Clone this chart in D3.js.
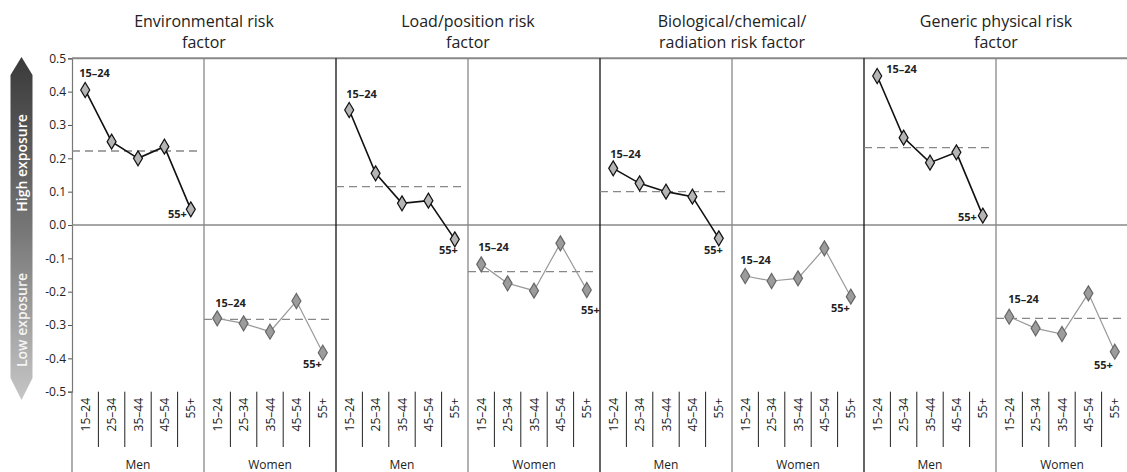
<!DOCTYPE html>
<html><head><meta charset="utf-8">
<script src="https://cdn.jsdelivr.net/npm/d3@7"></script>
<style>
html,body{margin:0;padding:0;background:#fff;}
svg{display:block;font-family:"Open Sans","Noto Sans",sans-serif;}
</style></head>
<body>
<svg id="chart" width="1127" height="472"></svg>
<script>
// ---------- data ----------
const factorTitles = [
  ["Environmental risk", "factor"],
  ["Load/position risk", "factor"],
  ["Biological/chemical/", "radiation risk factor"],
  ["Generic physical risk", "factor"]
];
const sexes = ["Men", "Women"];
const ageGroups = ["15–24", "25–34", "35–44", "45–54", "55+"];
const yTicks = [0.5, 0.4, 0.3, 0.2, 0.1, 0.0, -0.1, -0.2, -0.3, -0.4, -0.5];

const envMen      = [0.405, 0.250, 0.200, 0.235, 0.047];
const envWomen    = [-0.280, -0.295, -0.320, -0.228, -0.383];
const loadMen     = [0.345, 0.155, 0.065, 0.073, -0.043];
const loadWomen   = [-0.118, -0.175, -0.197, -0.055, -0.195];
const bioMen      = [0.170, 0.125, 0.100, 0.085, -0.040];
const bioWomen    = [-0.153, -0.168, -0.160, -0.070, -0.215];
const genMen      = [0.447, 0.262, 0.187, 0.218, 0.028];
const genWomen    = [-0.275, -0.310, -0.327, -0.205, -0.380];

const envMeans  = [0.222, -0.283];
const loadMeans = [0.115, -0.140];
const bioMeans  = [0.100, null];
const genMeans  = [0.232, -0.280];

const seriesByFactor = [
  [envMen, envWomen], [loadMen, loadWomen], [bioMen, bioWomen], [genMen, genWomen]
];
const meansByFactor = [envMeans, loadMeans, bioMeans, genMeans];

// label placement (layout only): [dx, dy, anchor] for first and last labels of each panel
const labelLayout = [
  [[-6,-13,"start"], [-4, 9,"end"]],
  [[-2,-11,"start"], [-1,15,"end"]],
  [[-3,-12,"start"], [ 3,15,"end"]],
  [[-3,-13,"start"], [13,24,"end"]],
  [[-3,-10,"start"], [ 4,16,"end"]],
  [[-5,-12,"start"], [-1,15,"end"]],
  [[ 9, -3,"start"], [-6, 5,"end"]],
  [[-1,-14,"start"], [-2,17,"end"]]
];

// ---------- layout ----------
const svg = d3.select("#chart");
const plotLeft = 72, plotRight = 1128, plotTop = 58.3, plotBottom = 391.7;
const y = d3.scaleLinear().domain([-0.5, 0.5]).range([plotBottom, plotTop]);
const xFactor = d3.scaleBand().domain(d3.range(4)).range([plotLeft, plotRight]).padding(0);
const xSex = d3.scaleBand().domain(sexes).range([0, xFactor.bandwidth()]).padding(0);
const xAge = d3.scaleBand().domain(ageGroups).range([0, xSex.bandwidth()]).padding(0);

// gradient arrow
const defs = svg.append("defs");
const grad = defs.append("linearGradient").attr("id","arrowGrad")
  .attr("x1",0).attr("y1",0).attr("x2",0).attr("y2",1);
grad.append("stop").attr("offset","0%").attr("stop-color","#3a3a3a");
grad.append("stop").attr("offset","50%").attr("stop-color","#767676");
grad.append("stop").attr("offset","100%").attr("stop-color","#c6c6c6");

const ax0 = 10.5, ax1 = 32.5, axm = (ax0+ax1)/2;
svg.append("path")
  .attr("d", `M${axm},57 L${ax1},75 L${ax1},378 L${axm},400 L${ax0},378 L${ax0},75 Z`)
  .attr("fill","url(#arrowGrad)");
svg.append("text").attr("transform",`translate(${axm+5},163) rotate(-90)`)
  .attr("text-anchor","middle").attr("fill","#fff").attr("font-size",14).attr("font-weight",600)
  .text("High exposure");
svg.append("text").attr("transform",`translate(${axm+5},320) rotate(-90)`)
  .attr("text-anchor","middle").attr("fill","#f4f4f4").attr("font-size",14).attr("font-weight",600)
  .text("Low exposure");

// y axis
const yAxis = d3.axisLeft(y).tickValues(yTicks).tickSize(4)
  .tickFormat(d => d3.format(".1f")(d).replace("−","-"));
const gy = svg.append("g").attr("transform",`translate(${plotLeft},0)`).call(yAxis);
gy.select(".domain").attr("stroke","#777").attr("stroke-width",1.2);
gy.selectAll(".tick line").attr("stroke","#555");
gy.selectAll(".tick text").attr("font-size",12).attr("fill","#222")
  .attr("font-family","'Open Sans','Noto Sans',sans-serif").attr("x",-6);

// top border and zero line
svg.append("line").attr("x1",plotLeft).attr("x2",plotRight).attr("y1",plotTop).attr("y2",plotTop)
  .attr("stroke","#888").attr("stroke-width",2);
svg.append("line").attr("x1",plotLeft).attr("x2",plotRight).attr("y1",y(0)).attr("y2",y(0))
  .attr("stroke","#888").attr("stroke-width",1.5);

// titles
factorTitles.forEach((lines, f) => {
  const cx = xFactor(f) + xFactor.bandwidth()/2;
  lines.forEach((t, i) => {
    svg.append("text").attr("x",cx).attr("y",27 + i*21).attr("text-anchor","middle")
      .attr("font-size",16).attr("fill","#222").text(t);
  });
});

const diamond = "M0,-7.5 L4.5,0 L0,7.5 L-4.5,0 Z";

let panelIdx = 0;
d3.range(4).forEach(f => {
  sexes.forEach((s, si) => {
    const x0 = xFactor(f) + xSex(s);
    const px = a => x0 + xAge(a) + xAge.bandwidth()/2;
    const vals = seriesByFactor[f][si];
    const mean = meansByFactor[f][si];
    const isMen = si === 0;

    if (x0 > plotLeft + 1) {
      svg.append("line").attr("x1",x0).attr("x2",x0).attr("y1",plotTop).attr("y2",472)
        .attr("stroke", isMen ? "#111" : "#888").attr("stroke-width",1.3);
    } else {
      svg.append("line").attr("x1",x0).attr("x2",x0).attr("y1",plotBottom).attr("y2",472)
        .attr("stroke","#777").attr("stroke-width",1.2);
    }
    ageGroups.forEach((a, ai) => {
      if (ai > 0) {
        const xx = x0 + xAge(a);
        svg.append("line").attr("x1",xx).attr("x2",xx).attr("y1",plotBottom).attr("y2",447)
          .attr("stroke","#222").attr("stroke-width",1);
      }
      svg.append("text").attr("transform",`translate(${px(a)+4.5},398) rotate(-90)`)
        .attr("text-anchor","end").attr("font-size",12).attr("fill","#222").text(a);
    });
    svg.append("text").attr("x", x0 + xSex.bandwidth()/2).attr("y",469)
      .attr("text-anchor","middle").attr("font-size",12).attr("fill","#222").text(s);

    if (mean !== null) {
      svg.append("line").attr("x1",x0).attr("x2",x0 + xSex.bandwidth() - 4)
        .attr("y1",y(mean)).attr("y2",y(mean))
        .attr("stroke","#888").attr("stroke-width",1.3).attr("stroke-dasharray","8,5");
    }
    const line = d3.line().x((d,i) => px(ageGroups[i])).y(d => y(d));
    svg.append("path").datum(vals).attr("d", line).attr("fill","none")
      .attr("stroke", isMen ? "#111" : "#999").attr("stroke-width", isMen ? 1.6 : 1.2);
    svg.selectAll(null).data(vals).enter().append("path")
      .attr("d", diamond)
      .attr("transform",(d,i) => `translate(${px(ageGroups[i])},${y(d)})`)
      .attr("fill", isMen ? "#b5b5b5" : "#9c9c9c")
      .attr("stroke", isMen ? "#111" : "#666").attr("stroke-width",1.2);
    const lay = labelLayout[panelIdx];
    [[0, lay[0]], [4, lay[1]]].forEach(([i, l]) => {
      svg.append("text").attr("x", px(ageGroups[i]) + l[0]).attr("y", y(vals[i]) + l[1])
        .attr("text-anchor", l[2]).attr("font-size",11).attr("font-weight",700)
        .attr("fill","#222").text(ageGroups[i]);
    });
    panelIdx++;
  });
});
</script>
</body></html>
